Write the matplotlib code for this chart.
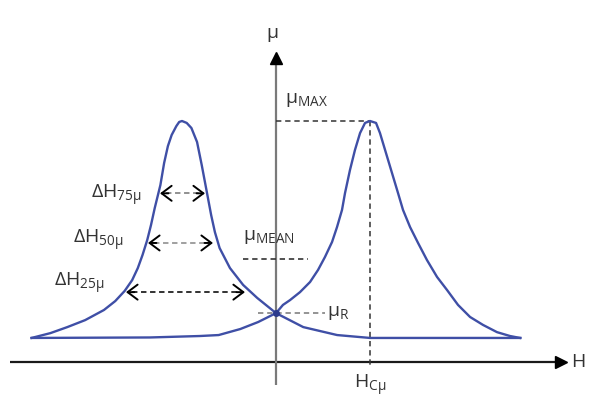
import matplotlib
matplotlib.use('Agg')
import matplotlib.pyplot as plt

plt.rcParams['font.family'] = ['Open Sans', 'DejaVu Sans']
plt.rcParams['mathtext.fontset'] = 'custom'
plt.rcParams['mathtext.rm'] = 'Open Sans'
plt.rcParams['mathtext.it'] = 'Open Sans:italic'
plt.rcParams['mathtext.default'] = 'regular'

# ---- data (H in units of H_Cmu, mu in units of mu_MAX) ----
# branch peaking at -H_C
H_LEFT = [-2.60, -2.40, -2.22, -2.03, -1.83, -1.71, -1.61, -1.53, -1.47, -1.42,
          -1.37, -1.33, -1.29, -1.23, -1.19, -1.15, -1.11, -1.06, -1.03, -1.00,
          -0.95, -0.90, -0.84, -0.79, -0.73, -0.69, -0.65, -0.60, -0.49, -0.35,
          -0.20, 0.00, 0.29, 0.65, 1.00, 2.60]
MU_LEFT = [0.100, 0.120, 0.145, 0.174, 0.216, 0.253, 0.295, 0.340, 0.390, 0.444,
           0.506, 0.568, 0.639, 0.734, 0.826, 0.896, 0.942, 0.979, 0.996, 1.000,
           0.992, 0.971, 0.913, 0.817, 0.693, 0.610, 0.539, 0.473, 0.390, 0.320,
           0.266, 0.203, 0.145, 0.112, 0.100, 0.100]
# branch peaking at +H_C
H_RIGHT = [-2.60, -1.34, -0.81, -0.61, -0.38, -0.19, 0.00, 0.074, 0.149, 0.255,
           0.362, 0.447, 0.521, 0.596, 0.649, 0.702, 0.734, 0.787, 0.840, 0.894,
           0.947, 1.000, 1.064, 1.106, 1.160, 1.234, 1.298, 1.351, 1.426, 1.511,
           1.606, 1.713, 1.819, 1.936, 2.064, 2.202, 2.351, 2.489, 2.596]
MU_RIGHT = [0.100, 0.102, 0.108, 0.112, 0.137, 0.166, 0.203, 0.237, 0.257, 0.290,
            0.332, 0.382, 0.436, 0.498, 0.560, 0.631, 0.701, 0.797, 0.880, 0.950,
            0.992, 1.000, 0.992, 0.950, 0.880, 0.784, 0.701, 0.631, 0.560, 0.494,
            0.423, 0.353, 0.299, 0.237, 0.187, 0.154, 0.124, 0.108, 0.100]

H_C = 1.0
MU_MAX = 1.0
MU_MEAN = 0.427
MU_R = 0.203

DH_LABELS = ['75μ', '50μ', '25μ']
DH_LEVEL = [0.700, 0.494, 0.290]
DH_FROM = [-1.234, -1.362, -1.596]
DH_TO = [-0.755, -0.670, -0.330]

CURVE = '#3f4fa6'
TXT = '#333333'

fig = plt.figure(figsize=(5.9, 3.97), dpi=100)
ax = fig.add_axes([0, 0, 1, 1])
ax.set_xlim(-2.936, 3.34)
ax.set_ylim(-0.145, 1.502)
ax.axis('off')

dash = (0, (3.5, 2.5))

# axes
ax.plot([-2.83, 3.0], [0, 0], color='#1a1a1a', lw=1.6, solid_capstyle='butt', zorder=2)
ax.plot([3.03], [0], marker='>', ms=9, color='black', zorder=3)
ax.plot([0, 0], [-0.095, 1.24], color='#7a7a7a', lw=1.6, solid_capstyle='butt', zorder=2)
ax.plot([0], [1.261], marker='^', ms=9, color='black', zorder=3)

# reference dashed lines
ax.plot([0, H_C], [MU_MAX, MU_MAX], color='#333333', lw=1.1, ls=dash, zorder=2)
ax.plot([H_C, H_C], [MU_MAX, -0.02], color='#333333', lw=1.1, ls=dash, zorder=2)
ax.plot([-0.351, 0.34], [MU_MEAN, MU_MEAN], color='#222222', lw=1.1, ls=dash, zorder=2)
ax.plot([-0.19, 0.52], [MU_R, MU_R], color='#777777', lw=1.1, ls=dash, zorder=2)

# curves
ax.plot(H_LEFT, MU_LEFT, color=CURVE, lw=1.7, zorder=4, solid_joinstyle='round')
ax.plot(H_RIGHT, MU_RIGHT, color=CURVE, lw=1.7, zorder=4, solid_joinstyle='round')
ax.plot([0], [MU_R], marker='o', ms=4, color='#2c3a8c', zorder=5)

# delta-H arrows
dcols = ['#888888', '#999999', '#222222']
for lab, lv, h1, h2, c in zip(DH_LABELS, DH_LEVEL, DH_FROM, DH_TO, dcols):
    ax.plot([h1 + 0.06, h2 - 0.06], [lv, lv], color=c, lw=1.3, ls=(0, (3, 2)), zorder=3)
    for tip, back in ((h1, h1 + 0.09), (h2, h2 - 0.09)):
        ax.annotate('', xy=(tip, lv), xytext=(back, lv),
                    arrowprops=dict(arrowstyle='->,head_length=0.6,head_width=0.45',
                                    lw=1.4, color='black', shrinkA=0, shrinkB=0,
                                    mutation_scale=12), zorder=3)

# labels
fs = 14
ax.text(-1.426, 0.693, r'ΔH$_{75μ}$', ha='right', va='center', fontsize=fs, color=TXT)
ax.text(-1.617, 0.506, r'ΔH$_{50μ}$', ha='right', va='center', fontsize=fs, color=TXT)
ax.text(-1.82, 0.328, r'ΔH$_{25μ}$', ha='right', va='center', fontsize=fs, color=TXT)
ax.text(-0.043, 1.365, 'μ', ha='center', va='center', fontsize=fs, color=TXT)
ax.text(0.096, 1.087, r'μ$_{MAX}$', ha='left', va='center', fontsize=fs, color=TXT)
ax.text(-0.351, 0.519, r'μ$_{MEAN}$', ha='left', va='center', fontsize=fs, color=TXT)
ax.text(0.54, 0.203, r'μ$_{R}$', ha='left', va='center', fontsize=fs, color=TXT)
ax.text(H_C, -0.095, r'H$_{Cμ}$', ha='center', va='center', fontsize=fs, color=TXT)
ax.text(3.21, 0.0, 'H', ha='center', va='center', fontsize=fs, color=TXT)

fig.savefig('out.png', dpi=100)
